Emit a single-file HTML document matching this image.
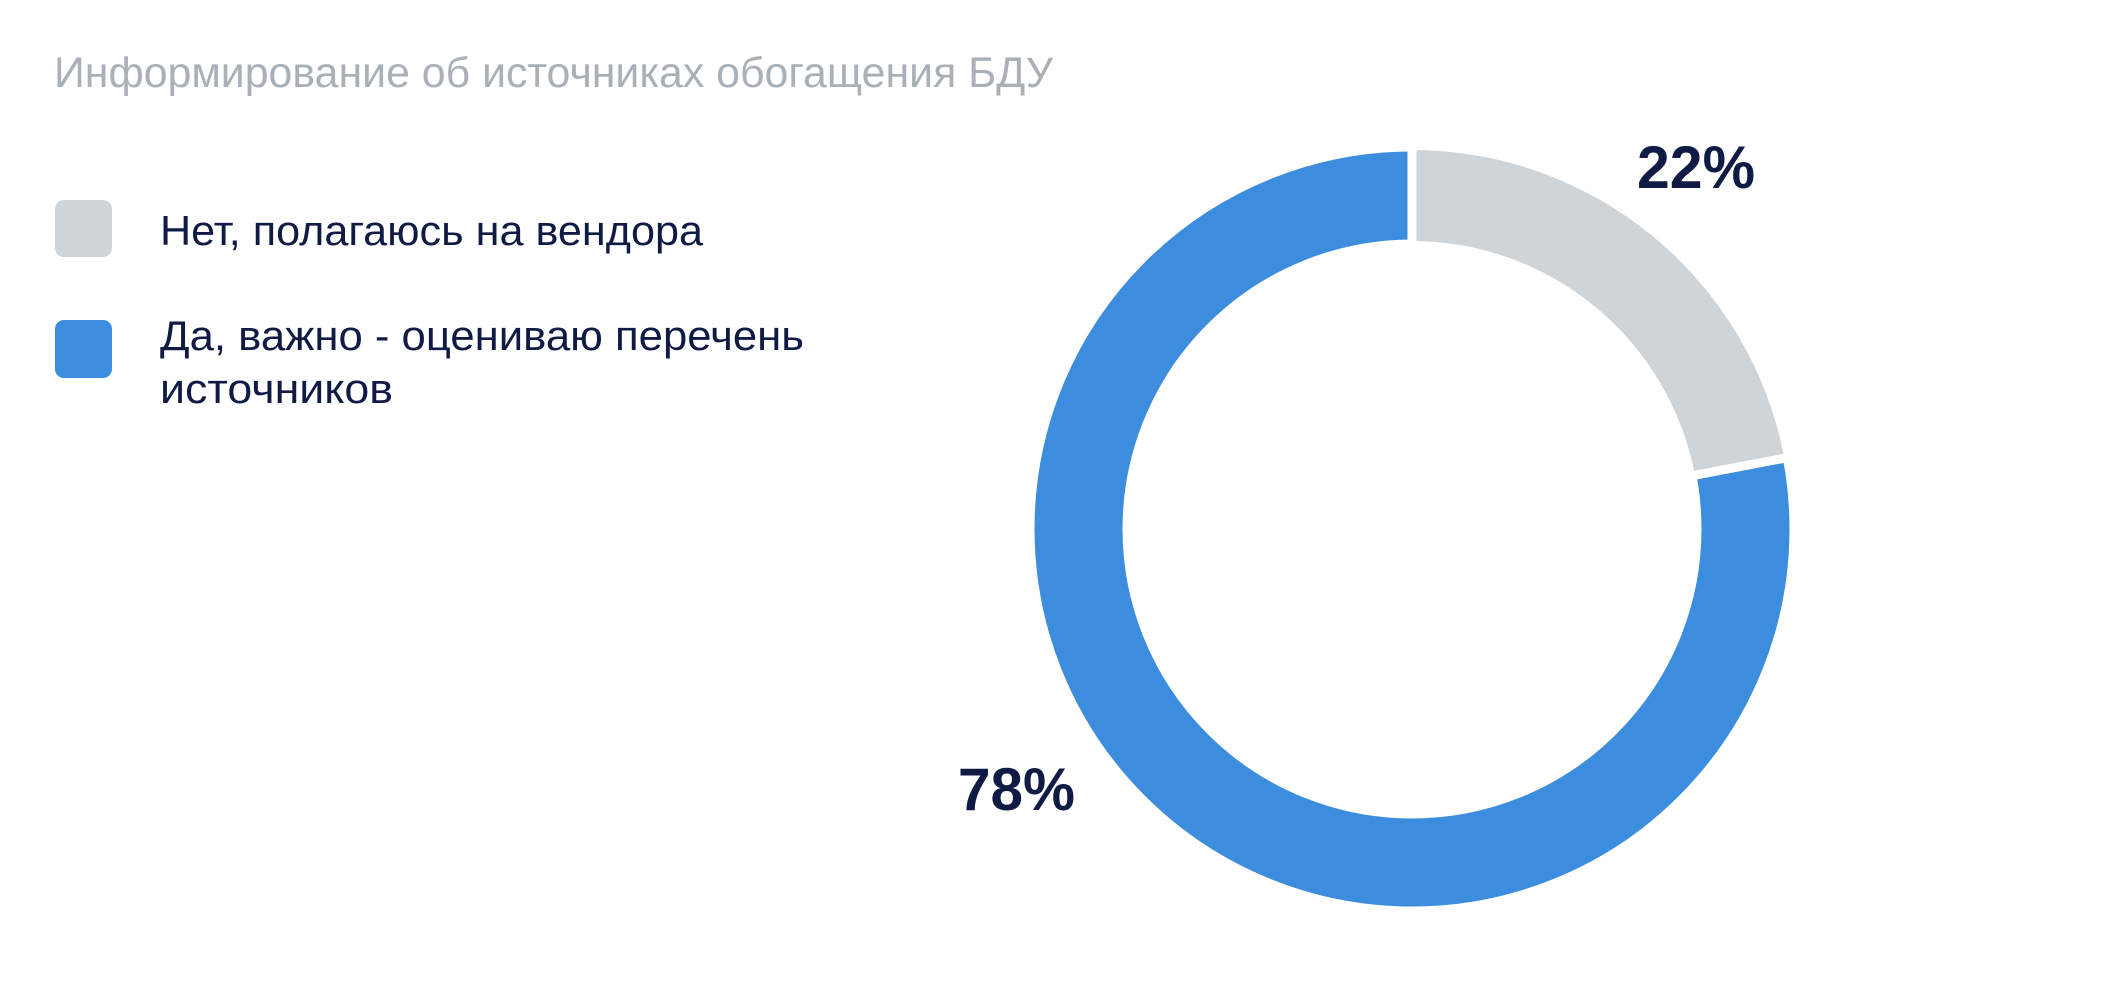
<!DOCTYPE html>
<html><head><meta charset="utf-8"><style>html,body{margin:0;padding:0;background:#fff;}svg{display:block}</style></head>
<body>
<svg width="2109" height="1003" viewBox="0 0 2109 1003" xmlns="http://www.w3.org/2000/svg" font-family="'Liberation Sans', sans-serif">
<rect width="2109" height="1003" fill="#fff"/>
<text x="54" y="87" font-size="43" fill="#a9b0b8" textLength="999" lengthAdjust="spacingAndGlyphs">Информирование об источниках обогащения БДУ</text>
<rect x="55" y="200" width="57" height="57" rx="9" fill="#cfd4d8"/>
<text x="160" y="245" font-size="42" fill="#0f1a45" textLength="543" lengthAdjust="spacingAndGlyphs">Нет, полагаюсь на вендора</text>
<rect x="55" y="320" width="57" height="58" rx="9" fill="#3c8ddd"/>
<text x="160" y="350" font-size="42" fill="#0f1a45" textLength="644" lengthAdjust="spacingAndGlyphs">Да, важно - оцениваю перечень</text>
<text x="160" y="403" font-size="42" fill="#0f1a45" textLength="233" lengthAdjust="spacingAndGlyphs">источников</text>
<g transform="translate(1412,529)">
<circle r="333.5" fill="none" stroke="#3c8ddd" stroke-width="88"/>
<path d="M0,-379 A379,379 0 0 1 372.4,-70.8 L283,-53.8 A288,288 0 0 0 0,-288 Z" fill="#cfd4d8"/>
<line x1="0" y1="-381" x2="0" y2="-284" stroke="#fff" stroke-width="9"/>
<line x1="279" y1="-53" x2="376" y2="-71.5" stroke="#fff" stroke-width="9"/>
</g>
<text x="1637" y="188" font-size="60" font-weight="bold" fill="#0f1a45" textLength="118" lengthAdjust="spacingAndGlyphs">22%</text>
<text x="958" y="810" font-size="60" font-weight="bold" fill="#0f1a45" textLength="117" lengthAdjust="spacingAndGlyphs">78%</text>
</svg>
</body></html>
